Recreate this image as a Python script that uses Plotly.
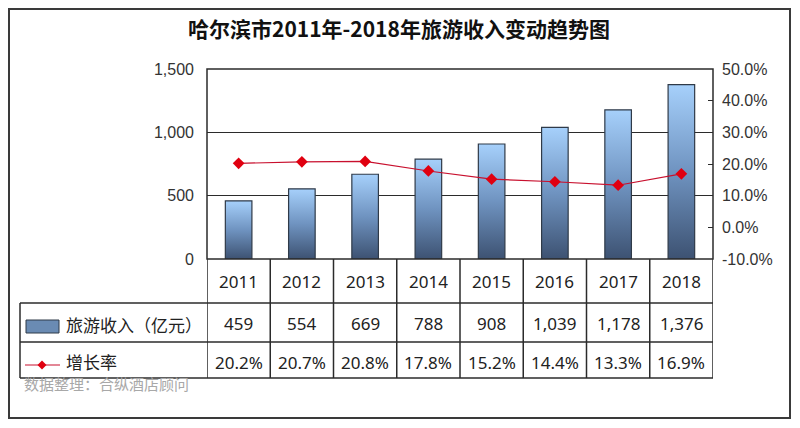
import plotly.graph_objects as go

# Data
years = ["2011", "2012", "2013", "2014", "2015", "2016", "2017", "2018"]
income = [459, 554, 669, 788, 908, 1039, 1178, 1376]
growth = [20.2, 20.7, 20.8, 17.8, 15.2, 14.4, 13.3, 16.9]
left_ticks = [0, 500, 1000, 1500]
right_ticks = [-10, 0, 10, 20, 30, 40, 50]

TITLE = "哈尔滨市2011年-2018年旅游收入变动趋势图"
SERIES1 = "旅游收入（亿元）"
SERIES2 = "增长率"
SOURCE = "数据整理：合纵酒店顾问"

CJK = "Noto Sans CJK SC"
TABLE_FONT = "Noto Sans, " + CJK
AXIS_FONT = "Liberation Sans, Arial"
LINE = "#2b2b2b"

# page is 800x428; the figure div sits inside the 8px body margin on every side
PAGE_W, PAGE_H, OFF = 800, 428, 8
# plot area in page pixels
L, R, T, B = 207, 713, 69, 259


def px(p):
    return (p - L) / (R - L)


def py(p):
    return (B - p) / (B - T)


fig = go.Figure()

# bars drawn as filled polygons so each gets a vertical gradient
hw = 0.21
for i, v in enumerate(income):
    fig.add_trace(go.Scatter(
        x=[i - hw, i - hw, i + hw, i + hw, i - hw], y=[0, v, v, 0, 0],
        mode="lines", fill="toself", line=dict(color="#2f3a48", width=1.2),
        fillgradient=dict(type="vertical",
                          colorscale=[[0, "#3d5272"], [0.5, "#6f93c0"], [1, "#a6d0fb"]]),
        hoverinfo="skip", showlegend=False))

fig.add_trace(go.Scatter(
    x=list(range(len(years))), y=growth, yaxis="y2", mode="lines+markers",
    line=dict(color="#c8102e", width=1.2),
    marker=dict(symbol="diamond", size=9, color="#e00010"),
    showlegend=False, name=SERIES2))

shapes = []
# plot frame
shapes.append(dict(type="rect", xref="paper", yref="paper", x0=0, x1=1, y0=0, y1=1,
                   line=dict(color=LINE, width=1.5)))
# outer border, kept inside the figure div
shapes.append(dict(type="rect", xref="paper", yref="paper",
                   x0=px(9), x1=px(790), y0=py(9), y1=py(418),
                   line=dict(color="#3a3a3a", width=2)))
# table horizontal lines
for yy in [303, 342, 378]:
    shapes.append(dict(type="line", xref="paper", yref="paper",
                       x0=px(20), x1=1, y0=py(yy), y1=py(yy),
                       line=dict(color=LINE, width=1.5)))
# table vertical lines
shapes.append(dict(type="line", xref="paper", yref="paper", x0=px(20), x1=px(20),
                   y0=py(303), y1=py(378), line=dict(color=LINE, width=1.5)))
for i in range(len(years) + 1):
    shapes.append(dict(type="line", xref="x", yref="paper", x0=i - 0.5, x1=i - 0.5,
                       y0=py(259), y1=py(378), line=dict(color=LINE, width=1.5)))
# legend keys inside table
shapes.append(dict(type="rect", xref="paper", yref="paper",
                   x0=px(26), x1=px(59), y0=py(320), y1=py(333),
                   fillcolor="#6a8bb3", line=dict(color="#2f3a48", width=1)))
shapes.append(dict(type="line", xref="paper", yref="paper",
                   x0=px(25), x1=px(60), y0=py(365), y1=py(365),
                   line=dict(color="#c8102e", width=1.2)))
dx, dy = 4.5, 4.5
cx, cy = 42, 365
shapes.append(dict(type="path", xref="paper", yref="paper",
                   path=(f"M {px(cx - dx)} {py(cy)} L {px(cx)} {py(cy - dy)} "
                         f"L {px(cx + dx)} {py(cy)} L {px(cx)} {py(cy + dy)} Z"),
                   fillcolor="#e00010", line=dict(color="#e00010", width=0)))

annotations = []
tfont = dict(family=TABLE_FONT, size=17, color="#222222")
for i, yr in enumerate(years):
    for yy, txt in [(281, yr), (323, f"{income[i]:,}"), (362, f"{growth[i]:.1f}%")]:
        annotations.append(dict(x=i, y=py(yy), xref="x", yref="paper", text=txt,
                                xanchor="center", yanchor="middle",
                                showarrow=False, font=tfont))
annotations.append(dict(x=px(64), y=py(325), xref="paper", yref="paper", text=SERIES1,
                        xanchor="left", yanchor="middle", showarrow=False, font=tfont))
annotations.append(dict(x=px(64), y=py(362), xref="paper", yref="paper", text=SERIES2,
                        xanchor="left", yanchor="middle", showarrow=False, font=tfont))
annotations.append(dict(x=px(22), y=py(383), xref="paper", yref="paper", text=SOURCE,
                        xanchor="left", yanchor="middle", showarrow=False,
                        font=dict(family=CJK, size=15, color="#a8a8a8")))
annotations.append(dict(x=px(399), y=py(28), xref="paper", yref="paper",
                        text=f"<b>{TITLE}</b>", showarrow=False,
                        xanchor="center", yanchor="middle",
                        font=dict(family=CJK, size=21, color="#111111")))

fig_w, fig_h = PAGE_W - 2 * OFF, PAGE_H - 2 * OFF
fig.update_layout(
    width=fig_w, height=fig_h,
    margin=dict(l=L - OFF, r=OFF + fig_w - R, t=T - OFF, b=OFF + fig_h - B, pad=0),
    paper_bgcolor="white", plot_bgcolor="white",
    xaxis=dict(range=[-0.5, len(years) - 0.5], showticklabels=False, showgrid=False,
               zeroline=False, fixedrange=True),
    yaxis=dict(range=[0, 1500], tickvals=left_ticks, tickformat=",d",
               showgrid=True, gridcolor=LINE, gridwidth=1.2, zeroline=False,
               ticks="", ticklabelstandoff=12,
               tickfont=dict(family=AXIS_FONT, size=16, color="#333333")),
    yaxis2=dict(range=[-10, 50], tickvals=right_ticks,
                ticktext=[f"{t:.1f}%" for t in right_ticks],
                overlaying="y", side="right", showgrid=False, zeroline=False,
                ticks="inside", ticklen=5, tickcolor=LINE, ticklabelstandoff=8,
                tickfont=dict(family=AXIS_FONT, size=16, color="#333333")),
    shapes=shapes, annotations=annotations,
    showlegend=False,
)

fig.write_html("out.html")
